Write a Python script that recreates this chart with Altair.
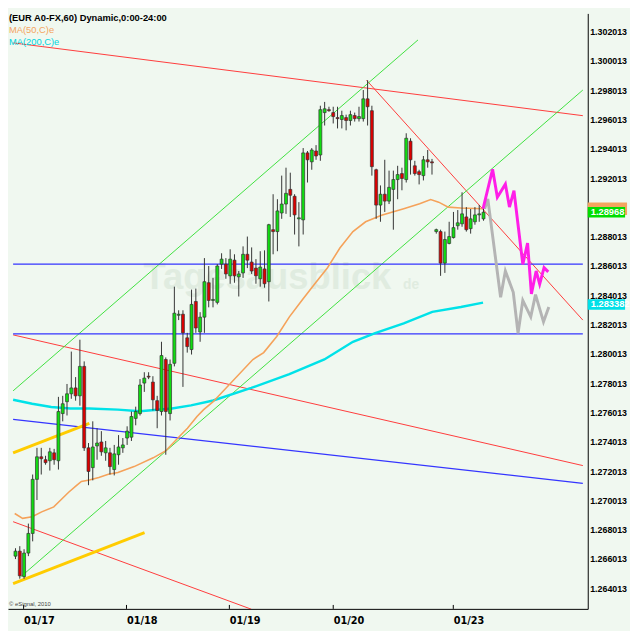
import altair as alt
import pandas as pd

# ---------------- data ----------------
t = list(range(110))
o = [1.26621,1.26655,1.26481,1.26642,1.26776,1.27145,1.27299,1.27279,1.27272,1.27326,
     1.27272,1.27594,1.27675,1.27729,1.27769,1.27715,1.27916,1.27360,1.27225,1.27373,
     1.27400,1.27326,1.27326,1.27212,1.27313,1.27360,1.27427,1.27433,1.27561,1.27594,
     1.27802,1.27849,1.27809,1.27682,1.27608,1.27963,1.27594,1.27937,1.28265,1.28272,
     1.28111,1.28031,1.28359,1.28151,1.28252,1.28487,1.28366,1.28353,1.28614,1.28614,
     1.28534,1.28641,1.28527,1.28554,1.28681,1.28628,1.28587,1.28514,1.28581,1.28494,
     1.28849,1.28836,1.28963,1.29024,1.29124,1.29077,1.28923,1.28916,1.29373,1.29312,
     1.29386,1.29359,1.29648,1.29668,1.29648,1.29614,1.29601,1.29614,1.29594,1.29628,
     1.29607,1.29607,1.29742,1.29661,1.29258,1.29017,1.29091,1.29044,1.29124,1.29191,
     1.29232,1.29191,1.29453,1.29285,1.29245,1.29218,1.29326,1.29312,1.28836,1.28836,
     1.28621,1.28755,1.28795,1.28876,1.28889,1.28936,1.28856,1.28903,1.28950,1.28923]
h = [1.26675,1.26689,1.26668,1.26843,1.27178,1.27360,1.27360,1.27306,1.27360,1.27353,
     1.27708,1.27715,1.27796,1.28017,1.27843,1.28098,1.27950,1.27393,1.27541,1.27494,
     1.27474,1.27407,1.27360,1.27380,1.27447,1.27427,1.27507,1.27608,1.27641,1.27829,
     1.27876,1.27876,1.27849,1.27715,1.28084,1.27977,1.27963,1.28460,1.28299,1.28299,
     1.28145,1.28440,1.28447,1.28286,1.28655,1.28601,1.28520,1.28614,1.28688,1.28655,
     1.28715,1.28681,1.28567,1.28735,1.28802,1.28728,1.28648,1.28702,1.28708,1.28889,
     1.29091,1.29057,1.29218,1.29272,1.29238,1.29091,1.29037,1.29406,1.29386,1.29406,
     1.29426,1.29695,1.29721,1.29688,1.29688,1.29688,1.29661,1.29634,1.29661,1.29648,
     1.29688,1.29802,1.29869,1.29695,1.29265,1.29151,1.29326,1.29252,1.29252,1.29285,
     1.29272,1.29507,1.29473,1.29319,1.29258,1.29352,1.29393,1.29332,1.28856,1.28849,
     1.28836,1.28903,1.28970,1.28983,1.29104,1.29003,1.28990,1.29003,1.29017,1.29003]
l = [1.26601,1.26467,1.26467,1.26621,1.26722,1.27004,1.27178,1.27245,1.27205,1.27245,
     1.27212,1.27541,1.27581,1.27695,1.27682,1.27648,1.27339,1.27105,1.27138,1.27279,
     1.27306,1.27272,1.27178,1.27172,1.27245,1.27326,1.27380,1.27407,1.27514,1.27581,
     1.27742,1.27829,1.27615,1.27494,1.27581,1.27313,1.27547,1.27916,1.28232,1.27776,
     1.28010,1.27997,1.28145,1.28084,1.28145,1.28319,1.28319,1.28339,1.28581,1.28514,
     1.28480,1.28487,1.28393,1.28520,1.28587,1.28547,1.28480,1.28460,1.28453,1.28359,
     1.28681,1.28702,1.28923,1.28957,1.28936,1.28816,1.28735,1.28816,1.29171,1.29258,
     1.29326,1.29319,1.29560,1.29654,1.29574,1.29540,1.29540,1.29527,1.29560,1.29587,
     1.29587,1.29587,1.29560,1.29218,1.28923,1.28903,1.28970,1.29024,1.28849,1.29057,
     1.29118,1.29171,1.29225,1.29218,1.29158,1.29185,1.29272,1.29225,1.28822,1.28534,
     1.28554,1.28749,1.28789,1.28849,1.28869,1.28836,1.28822,1.28883,1.28903,1.28910]
c = [1.26655,1.26487,1.26642,1.26776,1.27145,1.27299,1.27286,1.27259,1.27333,1.27279,
     1.27608,1.27661,1.27729,1.27769,1.27715,1.27916,1.27360,1.27199,1.27366,1.27393,
     1.27333,1.27360,1.27232,1.27319,1.27366,1.27380,1.27474,1.27574,1.27608,1.27789,
     1.27836,1.27843,1.27688,1.27615,1.27990,1.27608,1.27930,1.28279,1.28272,1.28145,
     1.28051,1.28339,1.28178,1.28252,1.28494,1.28366,1.28373,1.28601,1.28648,1.28547,
     1.28648,1.28534,1.28547,1.28681,1.28641,1.28567,1.28534,1.28594,1.28480,1.28883,
     1.28836,1.28977,1.29024,1.29097,1.29084,1.28950,1.28930,1.29373,1.29326,1.29393,
     1.29352,1.29668,1.29674,1.29661,1.29621,1.29607,1.29628,1.29594,1.29634,1.29607,
     1.29621,1.29742,1.29688,1.29279,1.29017,1.29091,1.29044,1.29138,1.29191,1.29225,
     1.29198,1.29473,1.29326,1.29232,1.29225,1.29326,1.29312,1.29305,1.28849,1.28621,
     1.28782,1.28802,1.28863,1.28896,1.28957,1.28849,1.28923,1.28950,1.28957,1.28968]

ma50_t = [-0.18,1.66,3.88,6.10,8.92,10.54,12.38,14.24,15.35,17.2,19.41,21.63,23.85,
          27.62,32.06,34.95,37.83,40.05,42.27,43.82,46.04,55.29,57.80,60.84,63.79,66.68,
          69.71,72.67,75.55,78.59,81.54,85.25,90.42,94.12,96.69,98.56,100.78,103.73,108.89]
ma50_p = [1.26912,1.26879,1.26890,1.26923,1.26957,1.27004,1.27057,1.27104,1.27131,1.27140,
          1.27158,1.27180,1.27192,1.27232,1.27292,1.27339,1.27427,1.27494,1.27574,1.27621,
          1.27675,1.27963,1.28010,1.28120,1.28254,1.28366,1.28480,1.28589,1.28724,1.28836,
          1.28903,1.28948,1.28992,1.29026,1.29055,1.29037,1.29003,1.28997,1.28992]

ma200_t = [-0.555,3.88,8.32,12.76,17.2,23.85,28.96,36.43,40.87,46.04,54.91,63.79,71.93,
           78.59,83.76,90.42,97.07,103.73,108.89]
ma200_p = [1.27688,1.27661,1.27639,1.27628,1.27628,1.27621,1.27610,1.27628,1.27650,1.27683,
           1.27769,1.27863,1.27963,1.28084,1.28143,1.28210,1.28288,1.28321,1.28351]

proj_up_t = [108.89,111.11,112.22,114.09,115.04,116.09,118.15,119.26,120.15,121.26,122.08,123.10,124.08]
proj_up_p = [1.28992,1.29261,1.29071,1.29160,1.29003,1.29115,1.28612,1.28757,1.28411,1.28567,1.28478,1.28590,1.28561]
proj_dn_t = [109.27,110.0,112.98,114.09,115.93,117.04,118.15,120.0,121.11,122.97,124.21]
proj_dn_p = [1.28992,1.29059,1.28388,1.28567,1.28422,1.28142,1.28366,1.28254,1.28406,1.28220,1.28321]

# trend lines: (x, price, x2, price2)
red_lines = [(-0.555,1.30124,132.13,1.29627),(81.76,1.29869,132.13,1.28232),
             (-0.555,1.28131,132.13,1.27239),(-0.555,1.26856,54.91,1.26259)]
green_lines = [(-0.555,1.27749,93.74,1.30144),(1.22,1.26480,132.13,1.29802)]
blue_lines = [(-0.555,1.27554,132.13,1.27118),(-0.555,1.28614,132.13,1.28614),
              (-0.555,1.28138,132.13,1.28138)]
yellow_lines = [(-0.555,1.27326,17.2,1.27527),(-0.555,1.26433,30.06,1.26782)]

y_ticks = [1.264013,1.266013,1.268013,1.270013,1.272013,1.274013,1.276013,1.278013,1.280013,
           1.282013,1.284013,1.286013,1.288013,1.290013,1.292013,1.294013,1.296013,1.298013,
           1.300013,1.302013]
y_hidden = [1.290013]          # covered by the last-price box in the reference
x_tick_pos = [1.89, 25.85, 49.81, 74.0, 101.96]
x_tick_lab = ["01/17", "01/18", "01/19", "01/20", "01/23"]

last_price = [1.28968]
last_price_lab = ["1.28968"]
ma200_last = [1.283382]
ma200_last_lab = ["1.283382"]
ma50_last = [1.28992]

# ---------------- styling ----------------
BG = "#f0f8f0"
GREEN = "#11dd11"
RED = "#dd0000"
EDGE = "#333333"

xs = alt.Scale(domain=[-0.6, 132.13], nice=False, zero=False)
ys = alt.Scale(domain=[1.26261, 1.30325], nice=False, zero=False)

label_expr = " : ".join(
    f"abs(datum.value - {p}) < 0.5 ? '{lab}'" for p, lab in zip(x_tick_pos, x_tick_lab)
) + " : ''"
y_label_expr = " || ".join(f"abs(datum.value - {v}) < 0.0001" for v in y_hidden) + \
    " ? '' : format(datum.value, '.6f')"

xaxis = alt.Axis(values=x_tick_pos, labelExpr=label_expr, labelAlign="left", labelPadding=6,
                 labelFont="Liberation Sans Narrow, DejaVu Sans Condensed, sans-serif",
                 labelFontSize=11, labelFontWeight="bold", labelColor="black",
                 ticks=False, grid=False, domainColor="black", domainWidth=1,
                 labelOverlap=False, labelFlush=False)
yaxis = alt.Axis(orient="right", values=y_ticks, labelExpr=y_label_expr, labelFont="Liberation Sans",
                 labelFontSize=9, labelFontWeight="bold", labelColor="black", labelPadding=2,
                 ticks=False, grid=False, domainColor="black", domainWidth=1,
                 labelOverlap=False, labelFlush=False)


def X(f):
    return alt.X(f, type="quantitative", scale=xs, axis=xaxis, title=None)


def Y(f):
    return alt.Y(f, type="quantitative", scale=ys, axis=yaxis, title=None)


dummy = pd.DataFrame({"a": [0]})
candles = pd.DataFrame({"t": t, "o": o, "h": h, "l": l, "c": c})


def seg_layer(segs, color, width):
    df = pd.DataFrame(segs, columns=["x", "y", "x2", "y2"])
    return alt.Chart(df).mark_rule(color=color, strokeWidth=width, clip=True).encode(
        x=X("x"), x2="x2", y=Y("y"), y2="y2")


def line_layer(xv, yv, color, width):
    df = pd.DataFrame({"x": xv, "y": yv})
    return alt.Chart(df).mark_line(color=color, strokeWidth=width, clip=True).encode(
        x=X("x"), y=Y("y"), order="x:Q")


watermark = alt.Chart(dummy).mark_text(
    text="Tagesausblick", font="Liberation Sans", fontSize=37, fontWeight="bold",
    color="#e0ece0", align="center", baseline="alphabetic").encode(
    x=alt.value(264), y=alt.value(280))
watermark_de = alt.Chart(dummy).mark_text(
    text="de", font="Liberation Sans", fontSize=14, fontWeight="bold",
    color="#e0ece0", align="left", baseline="alphabetic").encode(
    x=alt.value(402), y=alt.value(280))

wick = alt.Chart(candles).mark_rule(color=EDGE, strokeWidth=1).encode(
    x=X("t"), y=Y("l"), y2="h")
body = alt.Chart(candles).mark_bar(size=3, stroke=EDGE, strokeWidth=0.7).encode(
    x=X("t"), y=Y("o"), y2="c",
    color=alt.condition("datum.c >= datum.o", alt.value(GREEN), alt.value(RED)))

xticks = alt.Chart(pd.DataFrame({"pos": x_tick_pos})).mark_rule(color="black").encode(
    x=X("pos"), y=alt.value(602), y2=alt.value(606))

hdr = alt.Chart(dummy).mark_text(
    text="(EUR A0-FX,60) Dynamic,0:00-24:00", font="Liberation Sans", fontSize=9.5,
    fontWeight="bold", color="black", align="left", baseline="middle").encode(
    x=alt.value(1), y=alt.value(5))
hdr50 = alt.Chart(dummy).mark_text(
    text="MA(50,C)e", font="Liberation Sans", fontSize=9.5, color="#f4a460",
    align="left", baseline="middle").encode(x=alt.value(1), y=alt.value(17))
hdr200 = alt.Chart(dummy).mark_text(
    text="MA(200,C)e", font="Liberation Sans", fontSize=9.5, color="#00d4dc",
    align="left", baseline="middle").encode(x=alt.value(1), y=alt.value(29))
copy_txt = alt.Chart(dummy).mark_text(
    text="© eSignal, 2010", font="Liberation Sans", fontSize=6, color="#444444",
    align="left", baseline="middle").encode(x=alt.value(1), y=alt.value(601))


def box_layer(vals, color, x1, x2, half):
    df = pd.DataFrame({"p": vals})
    return alt.Chart(df).transform_calculate(
        lo=f"datum.p - {half}", hi=f"datum.p + {half}").mark_rect(color=color).encode(
        x=alt.value(x1), x2=alt.value(x2), y=Y("lo"), y2="hi")


def box_text(vals, labs):
    df = pd.DataFrame({"p": vals, "lab": labs})
    return alt.Chart(df).mark_text(
        align="left", baseline="middle", color="white", font="Liberation Sans",
        fontSize=9.5, fontWeight="bold").encode(x=alt.value(593), y=Y("p"), text="lab:N")


chart = alt.layer(
    watermark, watermark_de,
    seg_layer(red_lines, "#ff3a3a", 1),
    seg_layer(green_lines, "#3ee03e", 1),
    seg_layer(blue_lines, "#3535ff", 1.3),
    seg_layer(yellow_lines, "#ffcc00", 3),
    line_layer(ma200_t, ma200_p, "#00e2e8", 2.5),
    line_layer(ma50_t, ma50_p, "#f5a25a", 1.6),
    wick, body,
    line_layer(proj_dn_t, proj_dn_p, "#b4b4b4", 3),
    line_layer(proj_up_t, proj_up_p, "#ff1ee8", 3),
    xticks, hdr, hdr50, hdr200, copy_txt,
    box_layer(ma50_last, "#f4a460", 590, 630, 0.00042),
    box_layer(last_price, "#00dd00", 590, 628, 0.00036),
    box_text(last_price, last_price_lab),
    box_layer(ma200_last, "#00e0e8", 590, 628, 0.00036),
    box_text(ma200_last, ma200_last_lab),
).properties(
    width=590, height=606, padding=0, background=BG
).configure_view(stroke=None, fill=BG)

chart.save("out.html", embed_options={"renderer": "svg", "actions": False})
